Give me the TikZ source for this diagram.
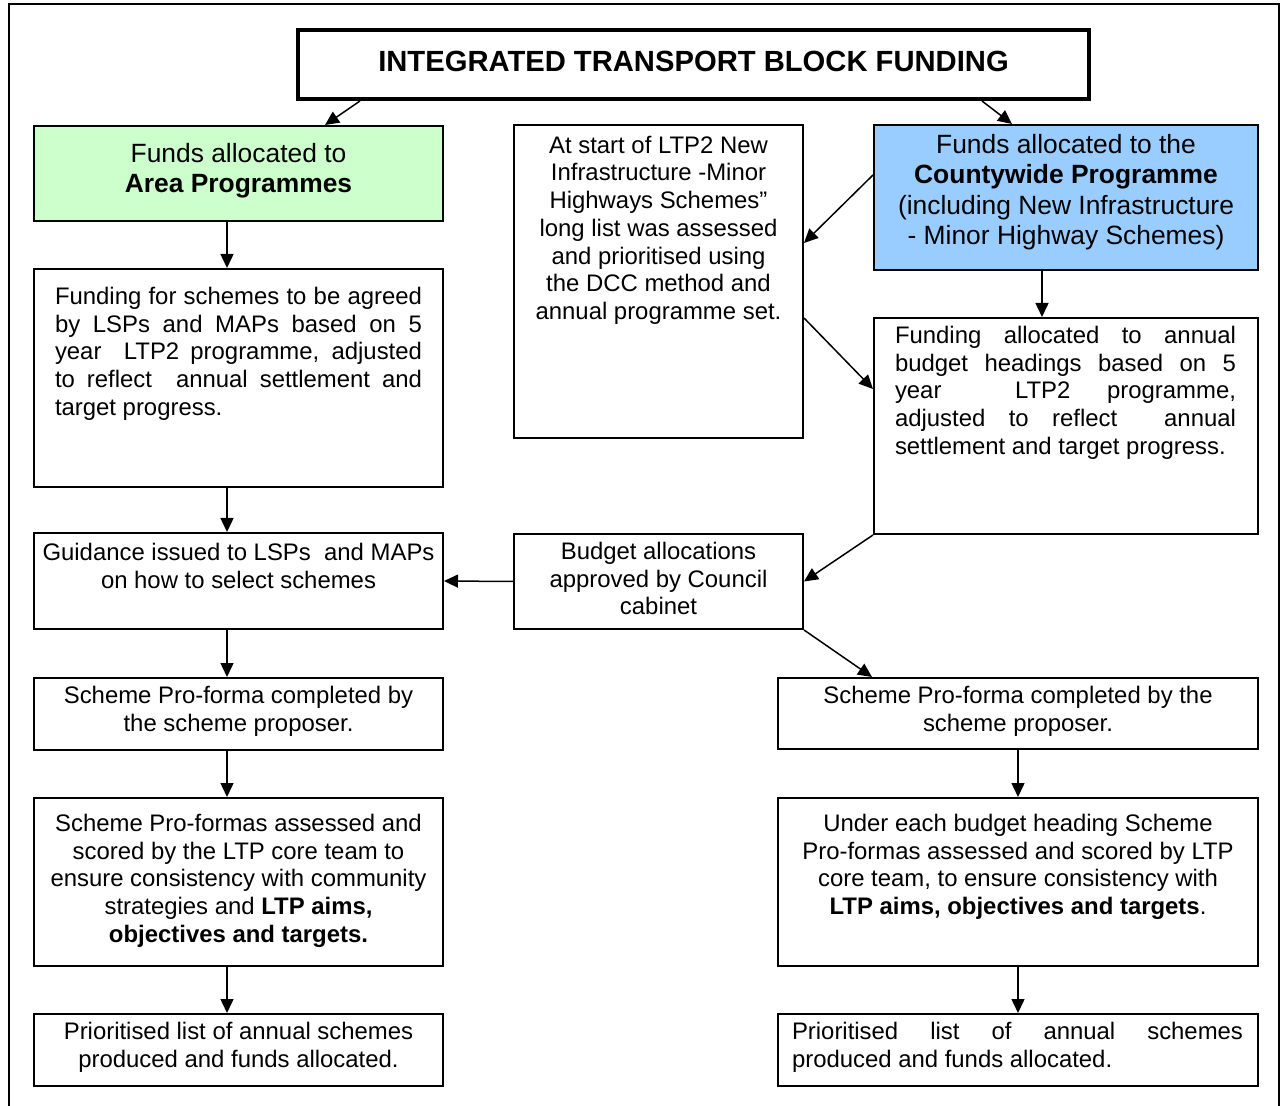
\documentclass[tikz,border=0pt]{standalone}
\usepackage{fontspec}
\setmainfont{Liberation Sans}
\usetikzlibrary{arrows.meta,fit,calc}
\definecolor{areagreen}{HTML}{CCFFCC}
\definecolor{countyblue}{HTML}{99CCFF}

% a framed box spanning two corner points, named #2
\newcommand\flowbox[6][]{%
  \path (#3,#4) coordinate (#2-a) (#5,#6) coordinate (#2-b);
  \node[boxframe,#1,fit=(#2-a)(#2-b)] (#2) {};}

\begin{document}
\begin{tikzpicture}[x=0.5pt,y=-0.5pt,
  boxframe/.style={draw=black,line width=1pt,inner sep=0pt,rectangle},
  titleframe/.style={line width=2pt},
  txtbody/.style={font=\fontsize{11.95pt}{13.85pt}\selectfont,inner sep=0pt,anchor=north,align=center},
  txtbig/.style={font=\fontsize{13.2pt}{15.2pt}\selectfont,inner sep=0pt,anchor=north,align=center},
  flow/.style={line width=0.75pt,-{Triangle[length=7pt,width=6.5pt]}},
]
\useasboundingbox (0,0) rectangle (1285,1106);

% outer frame (runs off the lower edge)
\draw[line width=1pt] (9,1106) -- (9,4) -- (1279,4) -- (1279,1106);

% boxes
\flowbox[titleframe]{title}{298}{30}{1089}{99}
\flowbox[fill=areagreen]{area}{34}{126}{443}{221}
\flowbox{mid}{514}{125}{803}{438}
\flowbox[fill=countyblue]{county}{874}{125}{1258}{270}
\flowbox{fundL}{34}{269}{443}{487}
\flowbox{fundR}{874}{318}{1258}{534}
\flowbox{guide}{34}{533}{443}{629}
\flowbox{budget}{514}{534}{803}{629}
\flowbox{proL}{34}{678}{443}{750}
\flowbox{proR}{778}{678}{1258}{749}
\flowbox{assessL}{34}{798}{443}{966}
\flowbox{assessR}{778}{798}{1258}{966}
\flowbox{prioL}{34}{1014}{443}{1086}
\flowbox{prioR}{778}{1014}{1258}{1086}

% texts
\node[font=\fontsize{14.6pt}{17pt}\selectfont\bfseries,anchor=base,inner sep=0pt] (title-t) at (693.5,72) {INTEGRATED TRANSPORT BLOCK FUNDING};

\node[txtbig] (area-t) at (238.5,142.7) {Funds allocated to\\\textbf{Area Programmes}};

\node[txtbody] (mid-t) at (658.5,135.6) {At start of LTP2 New\\Infrastructure -Minor\\Highways Schemes”\\long list was assessed\\and prioritised using\\the DCC method and\\annual programme set.};

\node[txtbig] (county-t) at (1066,133.7) {Funds allocated to the\\\textbf{Countywide Programme}\\(including New Infrastructure\\- Minor Highway Schemes)};

\node[txtbody,align=justify,text width=183.5pt] (fundL-t) at (238.5,286.6) {Funding for schemes to be agreed\linebreak by LSPs and MAPs based on 5\linebreak year\ \ LTP2 programme, adjusted\linebreak to reflect\ \ annual settlement and\linebreak target progress.};

\node[txtbody,align=justify,text width=170.5pt] (fundR-t) at (1065.5,325.6) {Funding allocated to annual\linebreak budget headings based on 5\linebreak year\ \ LTP2 programme,\linebreak adjusted to reflect\ \ annual\linebreak settlement and target progress.};

\node[txtbody] (guide-t) at (238.5,542.6) {Guidance issued to LSPs\ \ and MAPs\\on how to select schemes};

\node[txtbody] (budget-t) at (658.5,541.6) {Budget allocations\\approved by Council\\cabinet};

\node[txtbody] (proL-t) at (238.5,685.6) {Scheme Pro-forma completed by\\the scheme proposer.};

\node[txtbody] (proR-t) at (1018,685.6) {Scheme Pro-forma completed by the\\scheme proposer.};

\node[txtbody] (assessL-t) at (238.5,813.6) {Scheme Pro-formas assessed and\\scored by the LTP core team to\\ensure consistency with community\\strategies and \textbf{LTP aims,}\\\textbf{objectives and targets.}};

\node[txtbody] (assessR-t) at (1018,813.6) {Under each budget heading Scheme\\Pro-formas assessed and scored by LTP\\core team, to ensure consistency with\\\textbf{LTP aims, objectives and targets}.};

\node[txtbody] (prioL-t) at (238.5,1021.6) {Prioritised list of annual schemes\\produced and funds allocated.};

\node[txtbody,align=justify,text width=225.5pt] (prioR-t) at (1017.5,1021.6) {Prioritised list of annual schemes\linebreak produced and funds allocated.};

% connectors
\draw[flow] ([xshift=-166.75pt]title.south) -- ([xshift=43.25pt]area.north);
\draw[flow] ([xshift=144.25pt]title.south) -- ([xshift=-27pt]county.north);
\draw[flow] ([yshift=11.25pt]county.west) -- ([yshift=19.25pt]mid.east);
\draw[flow] ([yshift=-18.25pt]mid.east) -- ([yshift=18.5pt]fundR.west);
\draw[flow] ([xshift=-12pt]county.south) -- ([xshift=-12pt]county.south |- fundR.north);
\draw[flow] ([xshift=-5.75pt]area.south) -- ([xshift=-5.75pt]fundL.north);
\draw[flow] ([xshift=-5.75pt]fundL.south) -- ([xshift=-5.75pt]guide.north);
\draw[flow] (fundR.south west) -- (budget.east);
\draw[flow] (budget.west) -- (guide.east);
\draw[flow] (budget.south east) -- ([xshift=-73pt]proR.north);
\draw[flow] ([xshift=-5.75pt]guide.south) -- ([xshift=-5.75pt]proL.north);
\draw[flow] ([xshift=-5.75pt]proL.south) -- ([xshift=-5.75pt]assessL.north);
\draw[flow] ([xshift=-5.75pt]assessL.south) -- ([xshift=-5.75pt]prioL.north);
\draw[flow] (proR.south) -- (assessR.north);
\draw[flow] (assessR.south) -- (prioR.north);
\end{tikzpicture}
\end{document}
